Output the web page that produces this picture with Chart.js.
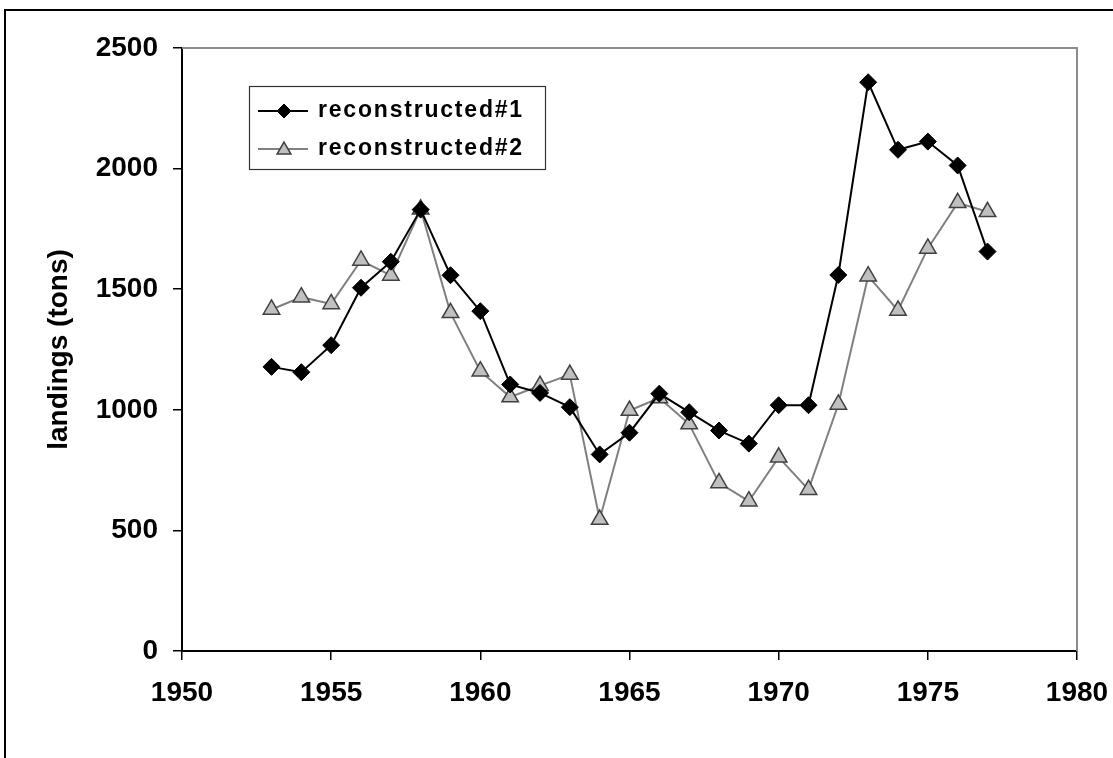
<!DOCTYPE html>
<html>
<head>
<meta charset="utf-8">
<script src="https://cdn.jsdelivr.net/npm/chart.js@4.4.1/dist/chart.umd.min.js"></script>
<style>
  html, body { margin: 0; padding: 0; background: #fff; overflow: hidden; }
  #wrap { position: relative; width: 1113px; height: 758px; }
  #frame { position: absolute; left: 4px; top: 9px; width: 1200px; height: 900px; border: 2px solid #000; }
  canvas { position: absolute; left: 0; top: 0; }
</style>
</head>
<body>
<div id="wrap">
  <div id="frame"></div>
  <canvas id="landingsChart" width="1113" height="758"></canvas>
</div>
<script>
const years = [1953, 1954, 1955, 1956, 1957, 1958, 1959, 1960, 1961, 1962, 1963, 1964, 1965,
               1966, 1967, 1968, 1969, 1970, 1971, 1972, 1973, 1974, 1975, 1976, 1977];
const reconstructed1 = [1178, 1156, 1268, 1506, 1614, 1830, 1558, 1409, 1105, 1070, 1011, 815, 905,
                        1067, 990, 914, 860, 1019, 1019, 1559, 2358, 2078, 2112, 2013, 1656];
const reconstructed2 = [1416, 1467, 1439, 1619, 1557, 1831, 1402, 1160, 1053, 1100, 1146, 545, 997,
                        1049, 941, 697, 621, 803, 669, 1022, 1554, 1412, 1669, 1858, 1821];
const seriesNames = ['reconstructed#1', 'reconstructed#2'];
const xTicks = [1950, 1955, 1960, 1965, 1970, 1975, 1980];
const yTicks = [0, 500, 1000, 1500, 2000, 2500];

const FONT = '"Liberation Sans", Arial, sans-serif';

// gray border on top and right of the plot area
const plotBorder = {
    id: 'plotBorder',
    beforeDatasetsDraw(chart) {
        const { ctx, chartArea: a } = chart;
        ctx.save();
        ctx.strokeStyle = '#8c8c8c';
        ctx.lineWidth = 2;
        ctx.beginPath();
        ctx.moveTo(a.left, a.top);
        ctx.lineTo(a.right, a.top);
        ctx.lineTo(a.right, a.bottom);
        ctx.stroke();
        ctx.restore();
    }
};

// legend box inside the plot, like the original
const boxLegend = {
    id: 'boxLegend',
    afterDraw(chart) {
        const ctx = chart.ctx;
        const x0 = 249, y0 = 86, w = 296, h = 83;
        ctx.save();
        ctx.fillStyle = '#fff';
        ctx.fillRect(x0, y0, w, h);
        ctx.strokeStyle = '#333';
        ctx.lineWidth = 1.2;
        ctx.strokeRect(x0 + 0.5, y0 + 0.5, w, h);
        const rows = [111, 149];
        chart.data.datasets.forEach((ds, i) => {
            const y = rows[i];
            ctx.strokeStyle = ds.borderColor;
            ctx.lineWidth = ds.borderWidth;
            ctx.beginPath();
            ctx.moveTo(258, y);
            ctx.lineTo(308, y);
            ctx.stroke();
            ctx.fillStyle = ds.pointBackgroundColor;
            ctx.strokeStyle = ds.pointBorderColor;
            ctx.lineWidth = ds.pointBorderWidth;
            Chart.helpers.drawPoint(ctx, { pointStyle: ds.pointStyle, radius: i === 0 ? 7 : 8, rotation: 0, borderWidth: ds.pointBorderWidth }, 284, i === 0 ? y : y + 1);
            ctx.fillStyle = '#000';
            ctx.font = 'bold 23px ' + FONT;
            ctx.letterSpacing = '1.8px';
            ctx.textBaseline = 'middle';
            ctx.textAlign = 'left';
            ctx.fillText(ds.label, 318, y);
        });
        ctx.restore();
    }
};

const ctx = document.getElementById('landingsChart').getContext('2d');
new Chart(ctx, {
    type: 'scatter',
    data: {
        datasets: [{
            label: seriesNames[0],
            data: years.map((yr, i) => ({ x: yr, y: reconstructed1[i] })),
            showLine: true,
            borderColor: '#000',
            borderWidth: 2,
            pointStyle: 'rectRot',
            pointRadius: 8.5,
            pointBackgroundColor: '#000',
            pointBorderColor: '#000',
            pointBorderWidth: 1,
            order: 1
        }, {
            label: seriesNames[1],
            data: years.map((yr, i) => ({ x: yr, y: reconstructed2[i] })),
            showLine: true,
            borderColor: '#808080',
            borderWidth: 2,
            pointStyle: 'triangle',
            pointRadius: 9.5,
            pointBackgroundColor: '#c0c0c0',
            pointBorderColor: '#404040',
            pointBorderWidth: 1.5,
            order: 2
        }]
    },
    options: {
        responsive: false,
        animation: false,
        layout: { padding: { left: 0, top: 48, right: 36, bottom: 0 } },
        plugins: {
            legend: { display: false },
            tooltip: { enabled: false }
        },
        scales: {
            x: {
                type: 'linear',
                min: 1950,
                max: 1980,
                afterBuildTicks: scale => { scale.ticks = xTicks.map(v => ({ value: v })); },
                afterFit: scale => {
                    scale.height = 107;
                    scale.paddingLeft = 0;
                    scale.paddingRight = 0;
                },
                border: { color: '#000', width: 2 },
                grid: { drawOnChartArea: false, drawTicks: true, tickLength: 9, color: '#000', lineWidth: 1.5 },
                ticks: {
                    color: '#000', padding: 16, maxRotation: 0,
                    callback: v => String(v),
                    font: { family: FONT, size: 28, weight: 'bold' }
                }
            },
            y: {
                min: 0,
                max: 2500,
                afterBuildTicks: scale => { scale.ticks = yTicks.map(v => ({ value: v })); },
                afterFit: scale => {
                    scale.width = 182;
                    scale.paddingTop = 0;
                    scale.paddingBottom = 0;
                },
                border: { color: '#000', width: 2 },
                grid: { drawOnChartArea: false, drawTicks: true, tickLength: 9, color: '#000', lineWidth: 1.5 },
                ticks: {
                    color: '#000', padding: 15,
                    callback: v => String(v),
                    font: { family: FONT, size: 28, weight: 'bold' }
                },
                title: {
                    display: true,
                    text: 'landings (tons)',
                    color: '#000',
                    padding: { top: 42, bottom: 0 },
                    font: { family: FONT, size: 28, weight: 'bold' }
                }
            }
        }
    },
    plugins: [plotBorder, boxLegend]
});
</script>
</body>
</html>
